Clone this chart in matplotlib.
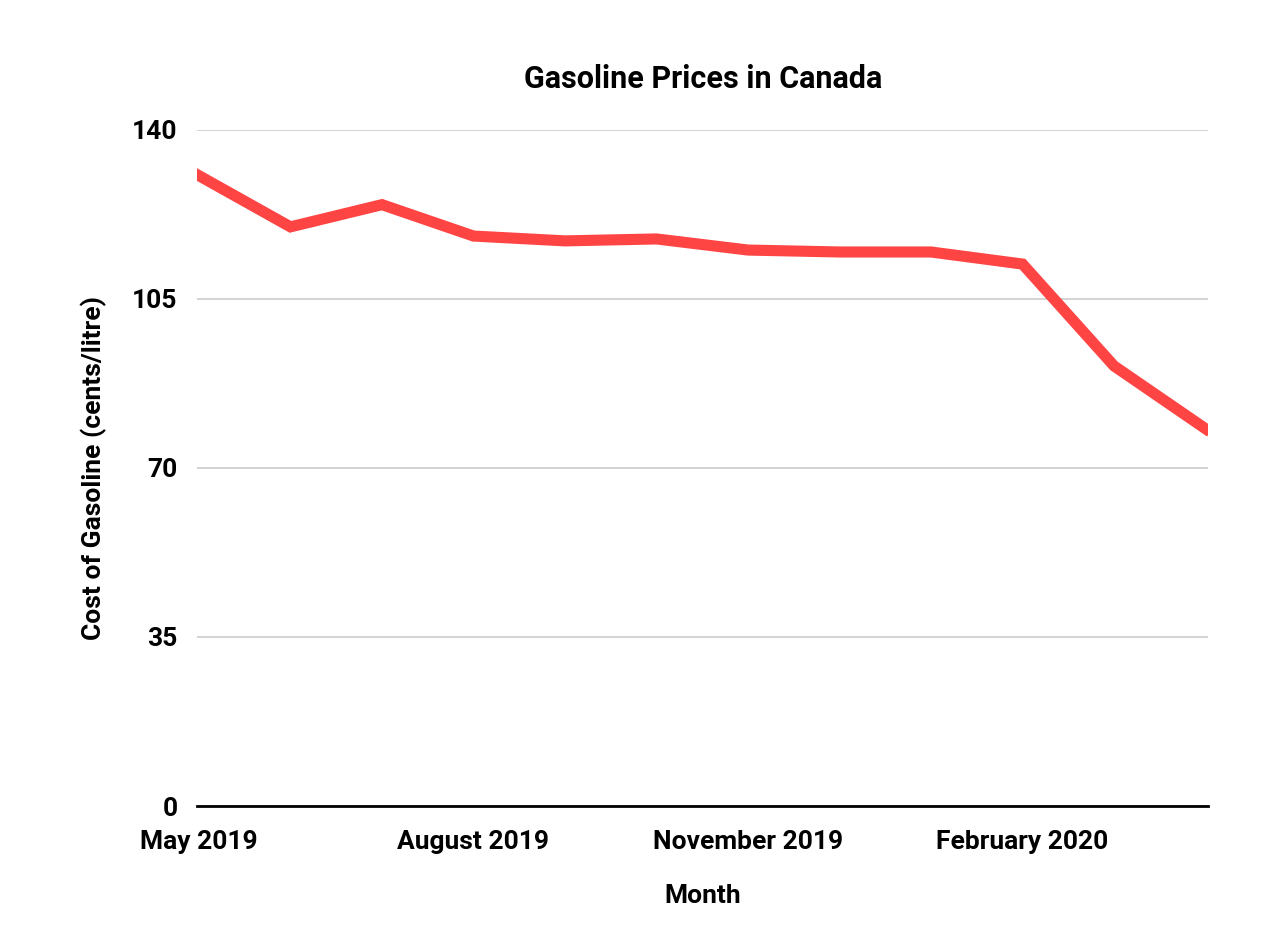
import matplotlib
matplotlib.use("Agg")
import matplotlib.pyplot as plt

months = ["May 2019", "June 2019", "July 2019", "August 2019", "September 2019",
          "October 2019", "November 2019", "December 2019", "January 2020",
          "February 2020", "March 2020", "April 2020"]
prices = [130.5, 119.9, 124.5, 118.0, 117.0, 117.4, 115.1, 114.7, 114.7, 112.2, 91.1, 78.1]
shown_labels = {"May 2019", "August 2019", "November 2019", "February 2020"}
yticks = [0, 35, 70, 105, 140]

plt.rcParams['font.family'] = ['Roboto', 'DejaVu Sans']
plt.rcParams['font.weight'] = 'bold'

fig = plt.figure(figsize=(12.8, 9.27), dpi=100)
ax = fig.add_axes([0.154, 0.1305, 0.790, 0.7295])

x = list(range(len(months)))
ax.plot(x, prices, color='#FF4444', linewidth=8, solid_joinstyle='miter', zorder=3)

ax.set_ylim(0, 140)
ax.set_xlim(-0.02, 11.03)
ax.set_yticks(yticks)
ax.set_yticklabels([str(v) for v in yticks], fontsize=19, fontweight='bold')
ax.set_xticks([i for i, m in enumerate(months) if m in shown_labels])
ax.set_xticklabels([m for m in months if m in shown_labels], fontsize=19, fontweight='bold')
ax.tick_params(axis='both', length=0)
ax.tick_params(axis='y', pad=14)
ax.tick_params(axis='x', pad=17)

ax.grid(axis='y', color='#cccccc', linewidth=1.2)
ax.set_axisbelow(True)
for s in ['left', 'right', 'top']:
    ax.spines[s].set_visible(False)
ax.spines['bottom'].set_color('black')
ax.spines['bottom'].set_linewidth(2)
ax.spines['bottom'].set_zorder(4)

ax.set_title("Gasoline Prices in Canada", fontsize=22, fontweight='bold', pad=30)
ax.set_xlabel("Month", fontsize=19, fontweight='bold', labelpad=22)
ax.set_ylabel("Cost of Gasoline (cents/litre)", fontsize=19, fontweight='bold', labelpad=18)

fig.savefig("out.png", dpi=100, facecolor='white')
